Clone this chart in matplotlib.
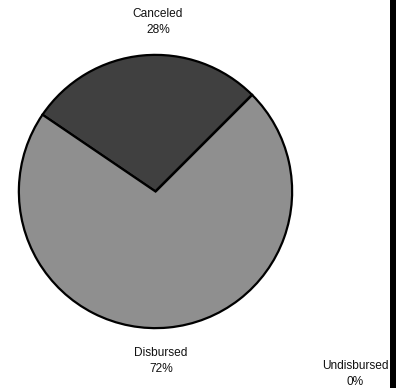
import matplotlib.pyplot as plt
from matplotlib.patches import Rectangle

labels = ["Canceled", "Disbursed", "Undisbursed"]
shares = [28, 72, 0]
colors = ["#404040", "#8f8f8f", "#d9d9d9"]

plt.rcParams['font.family'] = ['Liberation Sans', 'DejaVu Sans']

W, H = 396, 388
fig = plt.figure(figsize=(W / 100, H / 100), dpi=100)

# pie sits in a square box, centre (155.5, 191.5) px, radius 138 px
cx, cy, r = 155.5, 191.5, 138
ax = fig.add_axes([(cx - r) / W, (H - cy - r) / H, 2 * r / W, 2 * r / H])
ax.pie(shares, colors=colors, startangle=45, counterclock=True, radius=1,
       wedgeprops=dict(edgecolor="black", linewidth=1.6))
ax.set_xlim(-1.01, 1.01)
ax.set_ylim(-1.01, 1.01)
ax.set_aspect('equal')
ax.axis('off')

# label block centres in pixels
label_pos = [(158, 22), (161, 361), (355, 374)]
for name, val, (x, y) in zip(labels, shares, label_pos):
    fig.text(x / W, 1 - y / H, f"{name}\n{val}%", ha="center", va="center",
             fontsize=8.6, linespacing=1.55, color="#111111")

# dark strip down the right edge
fig.patches.append(Rectangle((390 / W, 0), 6 / W, 1, transform=fig.transFigure,
                             facecolor="black", edgecolor="none"))

fig.savefig("out.png", dpi=100)
